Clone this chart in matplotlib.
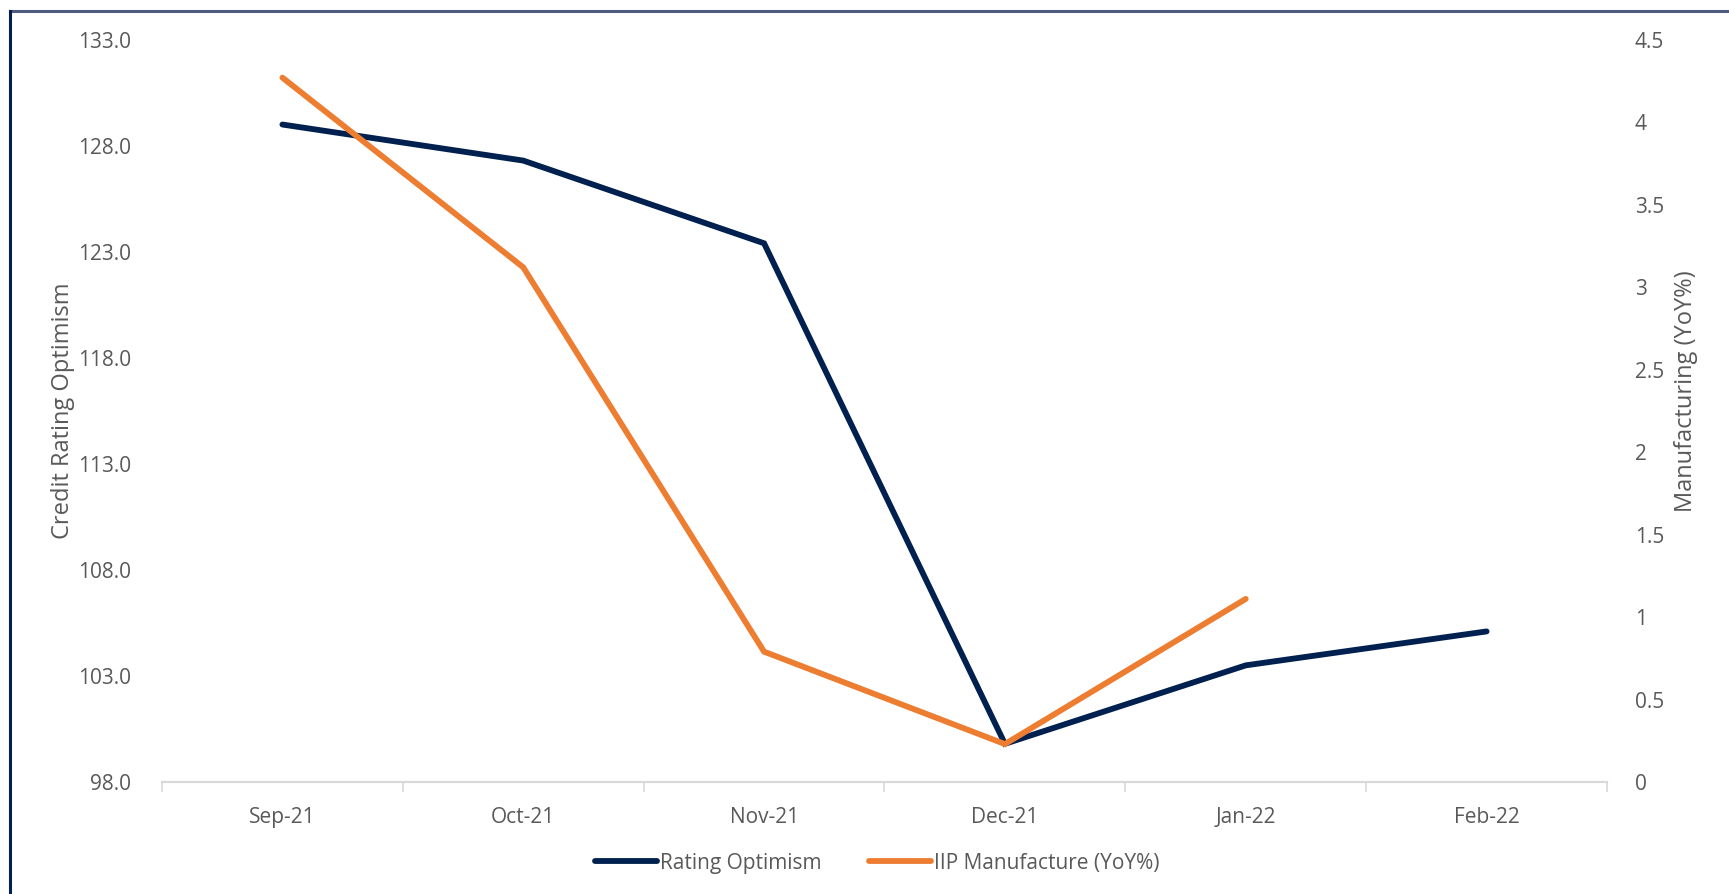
import matplotlib.pyplot as plt
from matplotlib.lines import Line2D

months = ["Sep-21", "Oct-21", "Nov-21", "Dec-21", "Jan-22", "Feb-22"]
rating_optimism = [129.0, 127.3, 123.4, 99.8, 103.5, 105.1]
iip_months = ["Sep-21", "Oct-21", "Nov-21", "Dec-21", "Jan-22"]
iip_manufacture = [4.27, 3.12, 0.79, 0.23, 1.11]
left_ticks = [98.0, 103.0, 108.0, 113.0, 118.0, 123.0, 128.0, 133.0]
right_ticks = [0, 0.5, 1, 1.5, 2, 2.5, 3, 3.5, 4, 4.5]
right_labels = ["0", "0.5", "1", "1.5", "2", "2.5", "3", "3.5", "4", "4.5"]

navy = "#002050"
orange = "#ED7D31"
grey_text = "#595959"

plt.rcParams['font.family'] = ['Open Sans', 'DejaVu Sans']

fig = plt.figure(figsize=(17.29, 8.94), dpi=100)
ax = fig.add_axes([162 / 1729, 1 - 782 / 894, (1607 - 162) / 1729, (782 - 39.7) / 894])
ax2 = ax.twinx()

x_all = list(range(len(months)))
x_iip = [months.index(m) for m in iip_months]

ax.plot(x_all, rating_optimism, color=navy, lw=4.2, solid_capstyle='round', solid_joinstyle='miter', zorder=2)
ax2.plot(x_iip, iip_manufacture, color=orange, lw=4.2, solid_capstyle='round', solid_joinstyle='miter', zorder=3)

ax.set_xlim(-0.5, len(months) - 0.5)
ax.set_ylim(98, 133)
ax2.set_ylim(0, 4.5)

ax.set_yticks(left_ticks)
ax.set_yticklabels([f"{v:.1f}" for v in left_ticks])
ax2.set_yticks(right_ticks)
ax2.set_yticklabels(right_labels)

ax.set_xticks(x_all)
ax.set_xticklabels(months)
ax.set_xticks([i - 0.5 for i in range(len(months) + 1)], minor=True)
ax.tick_params(axis='x', which='major', length=0, pad=18, labelsize=15, labelcolor=grey_text)
ax.tick_params(axis='x', which='minor', length=7, width=1.2, color='#D9D9D9')
ax.tick_params(axis='y', length=0, pad=22, labelsize=15, labelcolor=grey_text)
ax2.tick_params(axis='y', length=0, pad=20, labelsize=15, labelcolor=grey_text)

for a in (ax, ax2):
    for side in ('top', 'left', 'right'):
        a.spines[side].set_visible(False)
    a.spines['bottom'].set_color('#D9D9D9')
    a.spines['bottom'].set_linewidth(1.5)

ax.set_ylabel("Credit Rating Optimism", fontsize=17, color=grey_text)
ax2.set_ylabel("Manufacturing (YoY%)", fontsize=17, color=grey_text, rotation=90)
ax.yaxis.set_label_coords(-(162 - 63) / (1607 - 162), 0.5)
ax2.yaxis.set_label_coords(1 + (1686 - 1607) / (1607 - 162), (782 - 391) / (782 - 39.7))
ax.yaxis.label.set_va('center')
ax2.yaxis.label.set_va('center')

handles = [Line2D([0], [0], color=navy, lw=4.2, solid_capstyle='round'),
           Line2D([0], [0], color=orange, lw=4.2, solid_capstyle='round')]
fig.legend(handles, ["Rating Optimism", "IIP Manufacture (YoY%)"], loc='center',
           bbox_to_anchor=(877 / 1729, 1 - 863 / 894), ncol=2, frameon=False,
           fontsize=15, labelcolor=grey_text, handlelength=3.0, handletextpad=0.1,
           columnspacing=2.3)

# outer frame, only top and left edges show
fig.add_artist(Line2D([10 / 1729, 1], [1 - 11 / 894, 1 - 11 / 894], color='#4F5B7F', lw=2.2))
fig.add_artist(Line2D([10 / 1729, 10 / 1729], [0, 1 - 11 / 894], color=navy, lw=2.2))

fig.savefig("out.png", dpi=100)
